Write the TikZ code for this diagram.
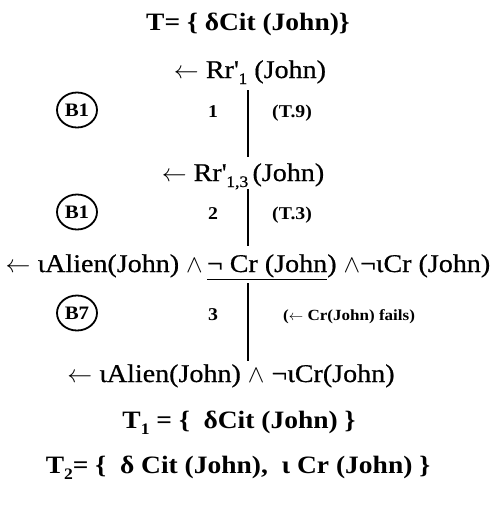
\documentclass[tikz,border=0pt]{standalone}
\usepackage{fontspec}
\setmainfont{Liberation Serif}[FakeStretch=1.1, UprightFeatures={FakeBold=0.6}]
\usetikzlibrary{shapes.geometric}
\tikzset{
  txt/.style={anchor=base, inner sep=0pt, font=\fontsize{25.5}{28}\selectfont},
  ttl/.style={anchor=base, inner sep=0pt, font=\fontsize{25}{28}\selectfont\bfseries},
  num/.style={anchor=base, inner sep=0pt, font=\fontsize{18}{20}\selectfont\bfseries},
  lbl/.style={anchor=base west, inner sep=0pt, font=\fontsize{18}{20}\selectfont\bfseries},
  lbls/.style={anchor=base west, inner sep=0pt, font=\fontsize{15.5}{18}\selectfont\bfseries},
  rule/.style={ellipse, draw, line width=1.8pt, minimum width=40pt, minimum height=35pt, inner sep=0pt, font=\fontsize{19}{20}\selectfont\bfseries},
  link/.style={line width=2.2pt}
}
\newcommand{\wg}{$\wedge$}
\newcommand{\la}{$\leftarrow$}
\newcommand{\apo}{\textquotesingle}
\newcommand{\lowsub}[1]{\raisebox{-6pt}{\fontsize{16}{18}\selectfont #1}}
\begin{document}
\begin{tikzpicture}[x=1pt,y=-1pt]
\useasboundingbox (0,0) rectangle (497,507);
\node[ttl] (T) at (248,30) {T= \{ δCit (John)\}};
\node[txt] (g1) at (250,78) {\la{} Rr\apo\lowsub{1} (John)};
\node[rule] (b1) at (77,110) {B1};
\node[num] (n1) at (213,117) {1};
\node[lbl] (l1) at (272,117) {(T.9)};
\node[txt] (g2) at (243,181) {\la{} Rr\apo\lowsub{1,3}\,(John)};
\node[rule] (b2) at (77,212) {B1};
\node[num] (n2) at (213,219) {2};
\node[lbl] (l2) at (272,219) {(T.3)};
\node[txt] (g3) at (248,272) {\la{} ιAlien(John) \wg\,\underline{¬ Cr (John}) \wg¬ιCr (John)};
\node[rule] (b3) at (77,313) {B7};
\node[num] (n3) at (213,320) {3};
\node[lbls] (l3) at (283,320) {(\la{} Cr(John) fails)};
\node[txt] (g4) at (231,382) {\la{} ιAlien(John) \wg{} ¬ιCr(John)};
\node[ttl] (T1) at (239,428) {T\lowsub{\bfseries 1} = \{ \ δCit (John) \}};
\node[ttl] (T2) at (238,473) {T\lowsub{\bfseries 2}= \{ \ δ Cit (John), \ ι Cr (John) \}};
\coordinate (a1) at (248,90);
\coordinate (a2) at (248,157);
\coordinate (a3) at (248,189);
\coordinate (a4) at (248,246);
\coordinate (a5) at (248,283);
\coordinate (a6) at (248,361);
\draw[link] (a1) -- (a2);
\draw[link] (a3) -- (a4);
\draw[link] (a5) -- (a6);
\end{tikzpicture}
\end{document}
